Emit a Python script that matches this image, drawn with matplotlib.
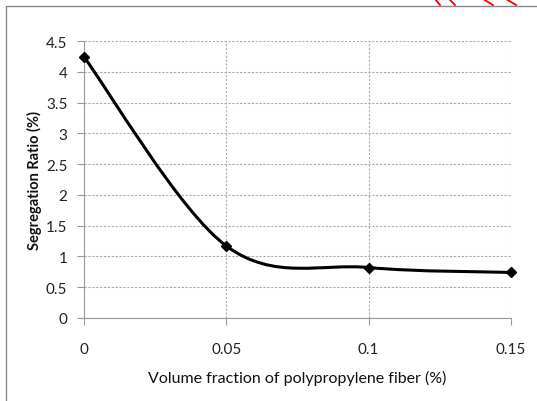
import matplotlib.pyplot as plt
import numpy as np
from matplotlib.path import Path
from matplotlib.patches import PathPatch, Rectangle
from matplotlib.lines import Line2D

plt.rcParams['font.family'] = ['Lato', 'DejaVu Sans']

fiber = [0, 0.05, 0.1, 0.15]
ratio = [4.24, 1.17, 0.82, 0.74]
xticks = [0, 0.05, 0.1, 0.15]
xticklabels = ['0', '0.05', '0.1', '0.15']
yticks = [0, 0.5, 1, 1.5, 2, 2.5, 3, 3.5, 4, 4.5]
yticklabels = ['0', '0.5', '1', '1.5', '2', '2.5', '3', '3.5', '4', '4.5']

fig = plt.figure(figsize=(5.37, 4.02), dpi=100)
ax = fig.add_axes([84/537, 1-319/402, (511-84)/537, (319-42)/402])

# excel style smoothed line (catmull-rom as bezier segments)
pts = np.column_stack([fiber, ratio])
verts = [pts[0]]
codes = [Path.MOVETO]
n = len(pts)
for i in range(n-1):
    p0 = pts[max(i-1, 0)]
    p1 = pts[i]
    p2 = pts[i+1]
    p3 = pts[min(i+2, n-1)]
    c1 = p1 + (p2-p0)/6
    c2 = p2 - (p3-p1)/6
    verts += [c1, c2, p2]
    codes += [Path.CURVE4]*3
ax.add_patch(PathPatch(Path(verts, codes), fill=False, edgecolor='black', lw=2.2, zorder=3))
ax.plot(fiber, ratio, ls='none', marker='D', color='black', markersize=5.5, zorder=4, clip_on=False)

ax.set_xlim(0, 0.15)
ax.set_ylim(0, 4.5)
ax.set_xticks(xticks)
ax.set_xticklabels(xticklabels)
ax.set_yticks(yticks)
ax.set_yticklabels(yticklabels)
ax.grid(True, color='#aaaaaa', ls=(0, (2, 1.5)), lw=0.8)
for s in ['top', 'right']:
    ax.spines[s].set_visible(False)
for s in ['left', 'bottom']:
    ax.spines[s].set_color('#999999')
ax.tick_params(axis='x', length=5, color='#999999', pad=12, labelsize=11, labelcolor='#222222')
ax.tick_params(axis='y', length=5, color='#999999', pad=7, labelsize=11, labelcolor='#222222')
ax.set_xlabel('Volume fraction of polypropylene fiber (%)', fontsize=11.5, labelpad=10, color='#111111')
ax.set_ylabel('Segregation Ratio (%)', fontsize=10.5, fontweight='bold', labelpad=3, color='#111111')

# chart area border
fig.patches.append(Rectangle((6/537, -0.05), 1.1, 1-7/402+0.05, transform=fig.transFigure,
                             fill=False, edgecolor='#888888', lw=1))
# red strokes at top right corner
for x0, x1 in [(435, 440), (449, 455), (483, 493), (506, 516)]:
    fig.add_artist(Line2D([x0/537, x1/537], [1, 1-6/402], transform=fig.transFigure, color='red', lw=1.3))

fig.savefig('out.png', dpi=100)
